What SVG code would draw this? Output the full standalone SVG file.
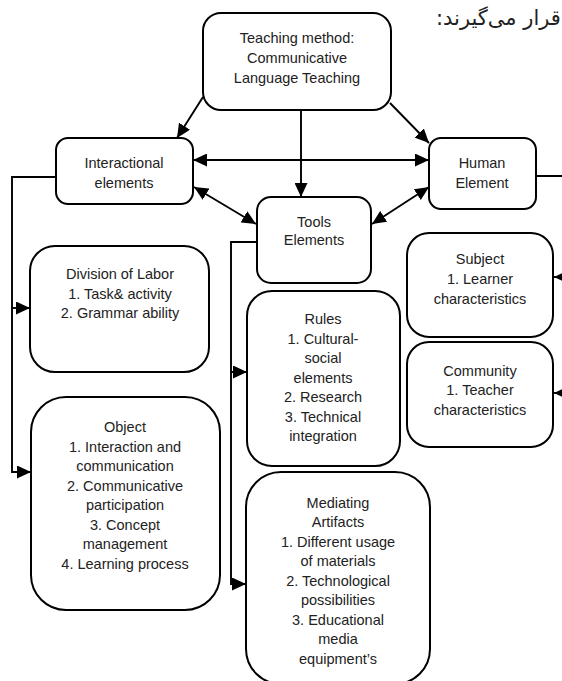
<svg xmlns="http://www.w3.org/2000/svg" width="562" height="681" viewBox="0 0 562 681">
<defs>
<style>
.box{fill:#fff;stroke:#000;stroke-width:2}
.t{font-family:"Liberation Sans",Arial,sans-serif;font-size:14.5px;fill:#222;text-anchor:middle}
.c{fill:none;stroke:#000;stroke-width:1.9}
.fa{font-family:"DejaVu Sans",sans-serif;font-size:21px;fill:#222}
</style>
<marker id="ah" viewBox="0 0 14 13" refX="14" refY="6.5" markerWidth="14" markerHeight="13" markerUnits="userSpaceOnUse" orient="auto-start-reverse">
<path d="M0,0 L14,6.5 L0,13 z" fill="#000"/>
</marker>
</defs>
<rect width="562" height="681" fill="#fff"/>
<text class="fa" x="436" y="25" direction="rtl" text-anchor="end">قرار می‌گیرند:</text>

<g id="connectors">
<line class="c" x1="203" y1="97" x2="177" y2="138" marker-end="url(#ah)"/>
<line class="c" x1="301" y1="110" x2="301" y2="197" marker-end="url(#ah)"/>
<line class="c" x1="390" y1="103" x2="429" y2="143" marker-end="url(#ah)"/>
<line class="c" x1="193" y1="160" x2="429" y2="160" marker-start="url(#ah)" marker-end="url(#ah)"/>
<line class="c" x1="194" y1="187" x2="256" y2="224" marker-start="url(#ah)" marker-end="url(#ah)"/>
<line class="c" x1="429" y1="187" x2="372" y2="224" marker-start="url(#ah)" marker-end="url(#ah)"/>
<polyline class="c" points="56,177 12,177 12,472 31,472" marker-end="url(#ah)"/>
<line class="c" x1="12" y1="308" x2="30" y2="308" marker-end="url(#ah)"/>
<polyline class="c" points="257,242 231,242 231,584 246,584" marker-end="url(#ah)"/>
<line class="c" x1="231" y1="372" x2="247" y2="372" marker-end="url(#ah)"/>
<polyline class="c" points="536,176 580,176 580,393"/>
<line class="c" x1="580" y1="277" x2="554" y2="277" marker-end="url(#ah)"/>
<line class="c" x1="580" y1="393" x2="554" y2="393" marker-end="url(#ah)"/>
</g>

<g id="teaching-method">
<rect class="box" x="203" y="13" width="188" height="97" rx="18"/>
<text class="t" x="297" y="43">Teaching method:</text>
<text class="t" x="297" y="63">Communicative</text>
<text class="t" x="297" y="83">Language Teaching</text>
</g>
<g id="interactional">
<rect class="box" x="56" y="138" width="137" height="66" rx="12"/>
<text class="t" x="124" y="168">Interactional</text>
<text class="t" x="124" y="188">elements</text>
</g>
<g id="human">
<rect class="box" x="429" y="138" width="107" height="71" rx="12"/>
<text class="t" x="482" y="168">Human</text>
<text class="t" x="482" y="188">Element</text>
</g>
<g id="tools">
<rect class="box" x="257" y="197" width="114" height="86" rx="14"/>
<text class="t" x="314" y="227">Tools</text>
<text class="t" x="314" y="245">Elements</text>
</g>
<g id="division">
<rect class="box" x="30" y="246" width="179" height="126" rx="25"/>
<text class="t" x="120" y="279">Division of Labor</text>
<text class="t" x="120" y="299">1. Task&amp; activity</text>
<text class="t" x="120" y="318">2. Grammar ability</text>
</g>
<g id="object">
<rect class="box" x="31" y="397" width="189" height="213" rx="35"/>
<text class="t" x="125" y="432">Object</text>
<text class="t" x="125" y="452">1. Interaction and</text>
<text class="t" x="125" y="471">communication</text>
<text class="t" x="125" y="491">2. Communicative</text>
<text class="t" x="125" y="510">participation</text>
<text class="t" x="125" y="530">3. Concept</text>
<text class="t" x="125" y="549">management</text>
<text class="t" x="125" y="569">4. Learning process</text>
</g>
<g id="rules">
<rect class="box" x="247" y="291" width="153" height="175" rx="25"/>
<text class="t" x="323" y="324">Rules</text>
<text class="t" x="323" y="344">1. Cultural-</text>
<text class="t" x="323" y="363">social</text>
<text class="t" x="323" y="383">elements</text>
<text class="t" x="323" y="402">2. Research</text>
<text class="t" x="323" y="422">3. Technical</text>
<text class="t" x="323" y="441">integration</text>
</g>
<g id="subject">
<rect class="box" x="407" y="233" width="146" height="104" rx="22"/>
<text class="t" x="480" y="264">Subject</text>
<text class="t" x="480" y="284">1. Learner</text>
<text class="t" x="480" y="304">characteristics</text>
</g>
<g id="community">
<rect class="box" x="407" y="342" width="146" height="105" rx="22"/>
<text class="t" x="480" y="376">Community</text>
<text class="t" x="480" y="395">1. Teacher</text>
<text class="t" x="480" y="415">characteristics</text>
</g>
<g id="mediating">
<rect class="box" x="246" y="472" width="184" height="212" rx="35"/>
<text class="t" x="338" y="508">Mediating</text>
<text class="t" x="338" y="527">Artifacts</text>
<text class="t" x="338" y="547">1. Different usage</text>
<text class="t" x="338" y="566">of materials</text>
<text class="t" x="338" y="586">2. Technological</text>
<text class="t" x="338" y="605">possibilities</text>
<text class="t" x="338" y="625">3. Educational</text>
<text class="t" x="338" y="644">media</text>
<text class="t" x="338" y="664">equipment’s</text>
</g>
</svg>
